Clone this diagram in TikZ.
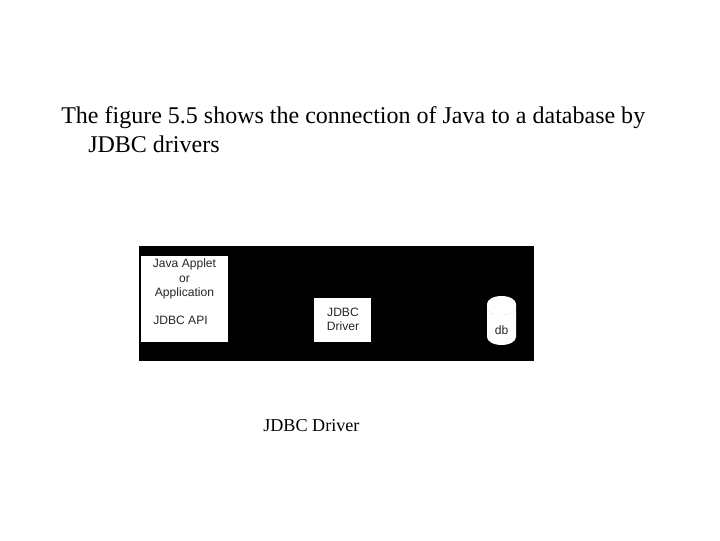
\documentclass[tikz,border=0pt]{standalone}
\usepackage{fontspec}
\setmainfont{Liberation Serif}
\setsansfont{Liberation Sans}
\tikzset{
  bodytext/.style={font=\fontsize{17.07}{20}\selectfont, anchor=base west, inner sep=0pt},
  capttext/.style={font=\fontsize{12.9}{15}\selectfont, anchor=base west, inner sep=0pt},
  boxtext/.style={font=\sffamily\fontsize{8.6}{10}\selectfont, align=center, inner sep=0pt, text=black!85},
  whitebox/.style={fill=white, draw=none}
}
\begin{document}
\begin{tikzpicture}[x=0.025cm, y=-0.025cm]
\pgfmathsetmacro{\dbl}{487};
\pgfmathsetmacro{\dbr}{516};
\useasboundingbox (0,0) rectangle (720,540);
\fill[white] (0,0) rectangle (720,540);
\node[bodytext] (line1) at (61,123) {The figure 5.5 shows the connection of Java to a database by};
\node[bodytext] (line2) at (88,152) {JDBC drivers};
\begin{scope}
\fill[black] (139,246) rectangle (534,361);
\fill[whitebox] (141,256) rectangle (228,342);
\fill[whitebox] (314,298) rectangle (371,342);
\fill[whitebox] (\dbl,304) arc (180:360:14.5 and 8) -- (\dbr,337) arc (0:180:14.5 and 8) -- cycle;
\draw[dotted, black!50, line width=0.3pt] (\dbl,309) arc (180:0:14.5 and 6);
\node[boxtext] (applet) at (184.5,279) {Java Applet\\[0.3pt]or\\[0.3pt]Application};
\node[boxtext] (api) at (180.5,320) {JDBC API};
\node[boxtext] (driver) at (343,319) {JDBC\\[0.1pt]Driver};
\node[boxtext] (db) at (501.5,330) {db};
\end{scope}
\node[capttext] (caption) at (263,431) {JDBC Driver};
\end{tikzpicture}
\end{document}
